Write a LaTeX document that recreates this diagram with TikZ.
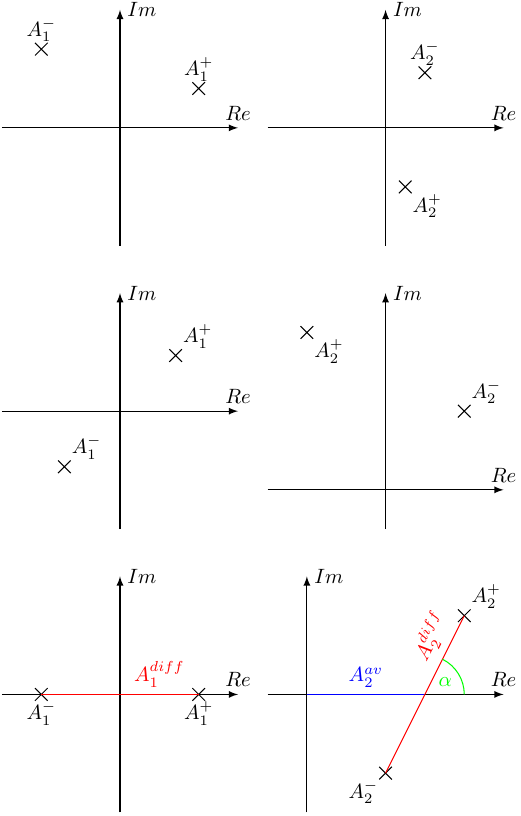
\documentclass[tikz,border=0pt]{standalone}
\usepackage{amsmath,amssymb}
\usepackage{xcolor}
\usetikzlibrary{shapes.misc,positioning,calc,arrows.meta}

\tikzset{
    pole/.style={draw, cross out, minimum size=5.6pt, inner sep=0pt},
    axis/.style={-latex, line width=0.55pt}
}

\begin{document}
\begin{tikzpicture}[scale=0.668, line width=0.5pt]
    \useasboundingbox (-3.05,-17.49) rectangle (10.17,3.25);

    % Top left: A1 poles
    \draw[axis] (-3,0) -- (3,0) node[above] (re1) {$Re$};
    \draw[axis] (0,-3) -- (0,3) node[right] (im1) {$Im$};
    \node[pole] (p1m) at (-2,2) {};
    \node[above] (t1m) at (p1m) {$A_1^-$};
    \node[pole] (p1p) at (2,1) {};
    \node[above] (t1p) at (p1p) {$A_1^+$};

    % Top right: A2 poles
    \begin{scope}[shift={(6.75,0)}]
        \draw[axis] (-3,0) -- (3,0) node[above] (re2) {$Re$};
        \draw[axis] (0,-3) -- (0,3) node[right] (im2) {$Im$};
        \node[pole] (p2m) at (1,1.4) {};
        \node[above] (t2m) at (p2m) {$A_2^-$};
        \node[pole] (p2p) at (0.5,-1.5) {};
        \node[below right] (t2p) at (p2p) {$A_2^+$};
    \end{scope}

    % Middle left: A1 rotated
    \begin{scope}[shift={(0,-7.2)}]
        \draw[axis] (-3,0) -- (3,0) node[above] (re3) {$Re$};
        \draw[axis] (0,-3) -- (0,3) node[right] (im3) {$Im$};
        \node[pole] (p3p) at (1.414,1.414) {};
        \node[above right] (t3p) at (p3p) {$A_1^+$};
        \node[pole] (p3m) at (-1.414,-1.414) {};
        \node[above right] (t3m) at (p3m) {$A_1^-$};
    \end{scope}

    % Middle right: A2 shifted
    \begin{scope}[shift={(6.75,-9.2)}]
        \draw[axis] (-3,0) -- (3,0) node[above] (re4) {$Re$};
        \draw[axis] (0,-1) -- (0,5) node[right] (im4) {$Im$};
        \node[pole] (p4p) at (-2,4) {};
        \node[below right] (t4p) at (p4p) {$A_2^+$};
        \node[pole] (p4m) at (2,2) {};
        \node[above right] (t4m) at (p4m) {$A_2^-$};
    \end{scope}

    % Bottom left: difference on the real axis
    \begin{scope}[shift={(0,-14.4)}]
        \draw[axis] (-3,0) -- (3,0) node[above] (re5) {$Re$};
        \draw[axis] (0,-3) -- (0,3) node[right] (im5) {$Im$};
        \node[pole] (p5m) at (-2,0) {};
        \node[below] (t5m) at (p5m) {$A_1^-$};
        \node[pole] (p5p) at (2,0) {};
        \node[below] (t5p) at (p5p) {$A_1^+$};
        \draw[red] (p5m.center) -- node[pos=0.75,above] (d5) {$A_1^{diff}$} (p5p.center);
    \end{scope}

    % Bottom right: average and difference
    \begin{scope}[shift={(4.75,-14.4)}]
        \draw[axis] (-1,0) -- (5,0) node[above] (re6) {$Re$};
        \draw[axis] (0,-3) -- (0,3) node[right] (im6) {$Im$};
        \coordinate (o6) at (0,0);
        \coordinate (m6) at (3,0);
        \node[pole] (p6p) at (4,2) {};
        \node[above right] (t6p) at (p6p) {$A_2^+$};
        \node[pole] (p6m) at (2,-2) {};
        \node[below left] (t6m) at (p6m) {$A_2^-$};
        \draw[blue] (o6) -- node[above] (av6) {$A_2^{av}$} (m6);
        \draw[red] (p6m.center) -- node[pos=0.81,above,sloped] (d6) {$A_2^{diff}$} (p6p.center);
        \draw[green] (4,0) arc[start angle=0, end angle=63.43, radius=1];
        \node[green] (al6) at (3.52,0.32) {$\alpha$};
    \end{scope}
\end{tikzpicture}
\end{document}
